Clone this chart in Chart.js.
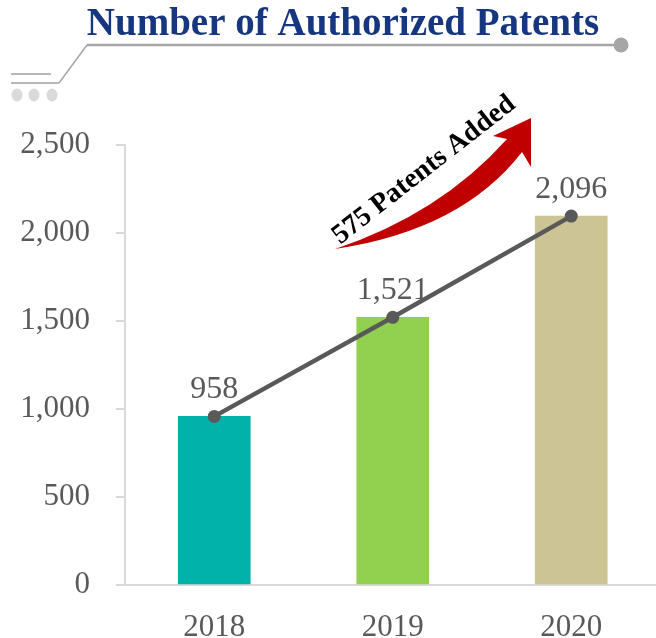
<!DOCTYPE html>
<html>
<head>
<meta charset="utf-8">
<script src="https://cdn.jsdelivr.net/npm/chart.js@4.4.0/dist/chart.umd.min.js"></script>
<style>
  html, body { margin: 0; padding: 0; background: #fff; overflow: hidden; }
  #wrap { position: absolute; left: 0; top: 0; width: 670px; height: 638px; }
</style>
</head>
<body>
<div id="wrap"><canvas id="patentChart"></canvas></div>
<script>
    // ======== Data ========
    const years = ['2018', '2019', '2020'];
    const patents = [958, 1521, 2096];
    const barColors = ['#00B2A9', '#92D050', '#CCC495'];
    const yTicks = { min: 0, max: 2500, step: 500 };
    const titleText = 'Number of Authorized Patents';
    const arrowText = '575 Patents Added';

    const SERIF = '"Liberation Serif", "Times New Roman", serif';

    // ======== Decorations: title, header lines, red arrow ========
    const decorPlugin = {
      id: 'decor',
      beforeDraw(chart) {
        const c = chart.ctx;
        c.save();
        // title
        c.fillStyle = '#16367F';
        c.font = 'bold 39px ' + SERIF;
        c.textAlign = 'center';
        c.textBaseline = 'alphabetic';
        c.fillText(titleText, 343, 35);

        // header line with circle end
        c.strokeStyle = '#A6A6A6';
        c.lineWidth = 2.5;
        c.beginPath(); c.moveTo(87, 45); c.lineTo(621, 45); c.stroke();
        c.fillStyle = '#A6A6A6';
        c.beginPath(); c.arc(621, 45, 7.5, 0, Math.PI * 2); c.fill();

        c.lineWidth = 1.5;
        c.beginPath(); c.moveTo(87, 45); c.lineTo(59, 83); c.stroke();
        c.strokeStyle = '#B8B8B8';
        c.lineWidth = 2;
        c.beginPath(); c.moveTo(59, 83); c.lineTo(11, 83); c.stroke();
        c.beginPath(); c.moveTo(51, 74); c.lineTo(11, 74); c.stroke();

        c.fillStyle = '#DADADA';
        [17, 34, 52].forEach(x => {
          c.beginPath(); c.ellipse(x, 95, 5.5, 6.5, 0, 0, Math.PI * 2); c.fill();
        });
        c.restore();
      },
      afterDraw(chart) {
        const c = chart.ctx;
        c.save();
        // curved red arrow
        c.fillStyle = '#C00000';
        c.beginPath();
        c.moveTo(335, 249);
        c.quadraticCurveTo(462, 230, 522, 152);
        c.lineTo(531, 167);
        c.lineTo(531, 118);
        c.lineTo(493, 136);
        c.lineTo(507, 139);
        c.quadraticCurveTo(440, 214, 335, 249);
        c.closePath();
        c.fill();

        // rotated caption
        c.translate(424, 170);
        c.rotate(-38 * Math.PI / 180);
        c.fillStyle = '#000';
        c.font = 'bold 28px ' + SERIF;
        c.textAlign = 'center';
        c.textBaseline = 'middle';
        c.fillText(arrowText, 0, 0);
        c.restore();
      }
    };

    // ======== Value labels above line points ========
    const valueLabels = {
      id: 'valueLabels',
      afterDatasetsDraw(chart) {
        const c = chart.ctx;
        const meta = chart.getDatasetMeta(1);
        c.save();
        c.fillStyle = '#595959';
        c.font = '32px ' + SERIF;
        c.textAlign = 'center';
        c.textBaseline = 'alphabetic';
        meta.data.forEach((pt, i) => {
          c.fillText(patents[i].toLocaleString('en-US'), pt.x, pt.y - 18);
        });
        c.restore();
      }
    };

    // ======== Chart ========
    const ctx = document.getElementById('patentChart').getContext('2d');
    const chart = new Chart(ctx, {
      data: {
        labels: years,
        datasets: [
          {
            type: 'bar',
            data: patents,
            backgroundColor: barColors,
            barThickness: 72,
            order: 2
          },
          {
            type: 'line',
            data: patents,
            borderColor: '#595959',
            borderWidth: 4.5,
            pointRadius: 6.5,
            pointBackgroundColor: '#595959',
            pointBorderWidth: 0,
            tension: 0,
            order: 1
          }
        ]
      },
      options: {
        responsive: true,
        maintainAspectRatio: false,
        animation: false,
        layout: { padding: { top: 145, right: 9.5, left: 0, bottom: 0 } },
        plugins: {
          legend: { display: false },
          tooltip: { enabled: false }
        },
        scales: {
          x: {
            grid: { display: false },
            border: { display: true, color: '#D9D9D9', width: 2 },
            ticks: { color: '#595959', font: { family: SERIF, size: 31 }, padding: 16 },
            afterFit(scale) { scale.height = 53; }
          },
          y: {
            min: yTicks.min,
            max: yTicks.max,
            grid: { drawOnChartArea: false, drawTicks: true, tickLength: 9, color: '#D9D9D9', lineWidth: 2 },
            border: { display: true, color: '#D9D9D9', width: 2 },
            ticks: { stepSize: yTicks.step, color: '#595959', font: { family: SERIF, size: 31 }, padding: 26 },
            afterFit(scale) { scale.width = 125; }
          }
        }
      },
      plugins: [decorPlugin, valueLabels]
    });
</script>
</body>
</html>
